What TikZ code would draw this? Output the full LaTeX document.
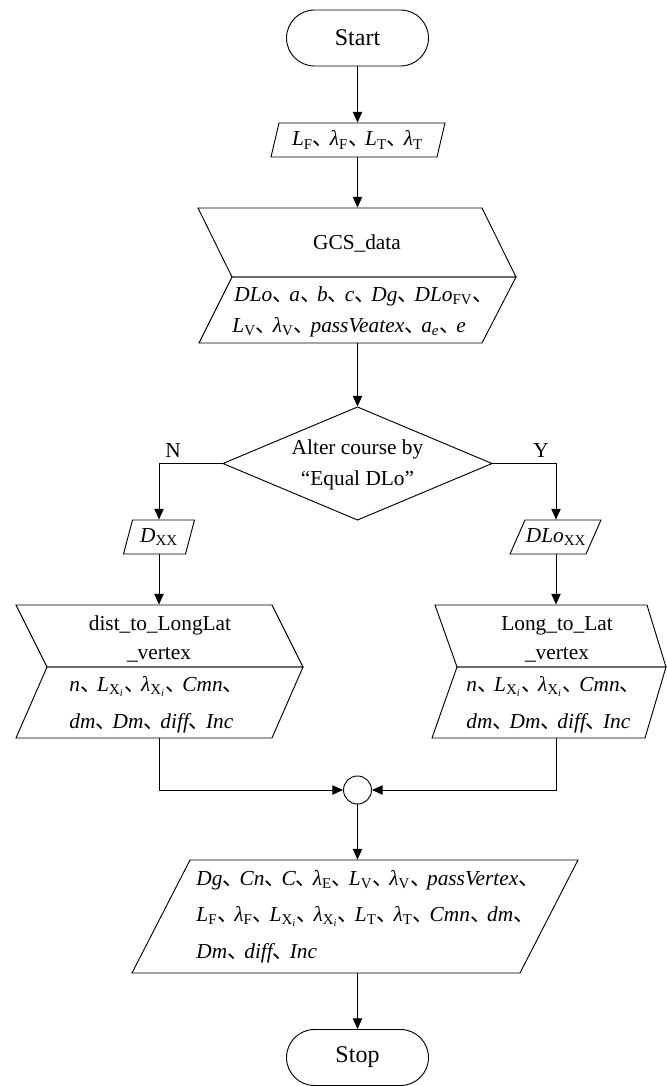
\documentclass[tikz,border=0pt]{standalone}
\usepackage{fontspec}
\setmainfont{Liberation Serif}
\newfontfamily\cjk{Noto Sans CJK SC}
\usetikzlibrary{arrows.meta,shapes.misc}
\newcommand\sep{\makebox[0.8em][l]{\cjk 、}}
\newcommand\sbs[1]{\textsubscript{\upshape #1}}
\newcommand\Xsub{\sbs{X\textsubscript{\itshape i}}}
\begin{document}
\begin{tikzpicture}[x=0.75pt,y=-0.75pt,
  font=\fontsize{16}{23}\selectfont, line width=0.7pt,
  every node/.style={inner sep=0pt},
  term/.style={rounded rectangle, draw, minimum width=106.5pt, minimum height=42pt, font=\fontsize{18}{23}\selectfont},
  outline/.style={draw, line join=miter},
  ctext/.style={anchor=base},
  ltext/.style={anchor=base west, font=\fontsize{16}{23}\selectfont\itshape},
  arr/.style={-{Triangle[length=8pt,width=7pt]}},
]
\useasboundingbox (0,0) rectangle (667,1086);

% terminals
\node (start) [term] at (357.5,38) {Start};
\node (stop) [term] at (357.5,1057.5) {Stop};

% input parallelogram
\draw[outline] (279,123)--(445,123)--(437,157)--(271,157)--cycle;
\node (in1) [minimum height=25.5pt] at (357.5,140) {\itshape L\sbs{F}\sep λ\sbs{F}\sep L\sbs{T}\sep λ\sbs{T}};

% GCS_data
\draw[outline] (198,208)--(482,208)--(516,277)--(232,277)--cycle;
\draw[outline] (232,277)--(516,277)--(482,343)--(199,343)--cycle;
\node (gcs) [minimum height=101.25pt] at (357.5,275.5) {};
\node (gcsT) [ctext] at (357,249) {GCS\_data};
\node (gcs1) [ltext] at (234,301) {DLo\sep a\sep b\sep c\sep Dg\sep DLo\sbs{FV}\sep};
\node (gcs2) [ltext] at (232,332) {L\sbs{V}\sep λ\sbs{V}\sep passVeatex\sep a\textsubscript{e}\sep e};

% decision
\draw[outline] (357.5,407)--(492,463.5)--(357.5,520)--(223,463.5)--cycle;
\node (dec) [minimum width=201.75pt, minimum height=84.75pt] at (357.5,463.5) {};
\node (dec1) [ctext] at (357.5,454) {Alter course by};
\node (dec2) [ctext] at (357.5,485) {“Equal DLo”};
\node (nlab) [ctext] at (173,457) {N};
\node (ylab) [ctext] at (541,457) {Y};

% D_XX and DLo_XX
\draw[outline] (132.5,520)--(194.5,520)--(185.5,554)--(123.5,554)--cycle;
\node (dx) [minimum height=25.5pt] at (159,537) {\itshape D\sbs{XX}};
\draw[outline] (525,520)--(601,520)--(586,554)--(510,554)--cycle;
\node (dlo) [minimum height=25.5pt] at (556,537) {\itshape DLo\sbs{XX}};

% left subprocess
\draw[outline] (16,605)--(272,605)--(303,667)--(47,667)--cycle;
\draw[outline] (47,667)--(303,667)--(272,738)--(16,738)--cycle;
\node (lbox) [minimum height=99.75pt] at (159,671.5) {};
\node (lT1) [ctext] at (160,630) {dist\_to\_LongLat};
\node (lT2) [ctext] at (159,659) {\_vertex};
\node (l1) [ltext] at (69,691) {n\sep L\Xsub\sep λ\Xsub\sep Cmn\sep};
\node (l2) [ltext] at (69,728) {dm\sep Dm\sep diff\sep Inc};

% right subprocess
\draw[outline] (435,605)--(647,605)--(666,667)--(457,667)--cycle;
\draw[outline] (457,667)--(666,667)--(645,738)--(432,738)--cycle;
\node (rbox) [minimum height=99.75pt] at (556,671.5) {};
\node (rT1) [ctext] at (557,630) {Long\_to\_Lat};
\node (rT2) [ctext] at (557,659) {\_vertex};
\node (r1) [ltext] at (466,691) {n\sep L\Xsub\sep λ\Xsub\sep Cmn\sep};
\node (r2) [ltext] at (466,728) {dm\sep Dm\sep diff\sep Inc};

% merge
\node (mg) [circle, draw, minimum size=21pt] at (357.5,790) {};

% output
\draw[outline] (190,860)--(578,860)--(520,973)--(132,973)--cycle;
\node (out) [minimum height=84.75pt] at (357.5,916.5) {};
\node (o1) [ltext] at (196,885) {Dg\sep Cn\sep C\sep λ\sbs{E}\sep L\sbs{V}\sep λ\sbs{V}\sep passVertex\sep};
\node (o2) [ltext] at (196,921) {L\sbs{F}\sep λ\sbs{F}\sep L\Xsub\sep λ\Xsub\sep L\sbs{T}\sep λ\sbs{T}\sep Cmn\sep dm\sep};
\node (o3) [ltext] at (196,958) {Dm\sep diff\sep Inc};

% connectors
\draw[arr] (start.south) -- (in1.north);
\draw[arr] (in1.south) -- (gcs.north);
\draw[arr] (gcs.south) -- (dec.north);
\draw[arr] (dec.west) -| (dx.north);
\draw[arr] (dec.east) -| (dlo.north);
\draw[arr] (dx.south) -- (lbox.north);
\draw[arr] (dlo.south) -- (rbox.north);
\draw[arr] (lbox.south) |- (mg.west);
\draw[arr] (rbox.south) |- (mg.east);
\draw[arr] (mg.south) -- (out.north);
\draw[arr] (out.south) -- (stop.north);
\end{tikzpicture}
\end{document}
